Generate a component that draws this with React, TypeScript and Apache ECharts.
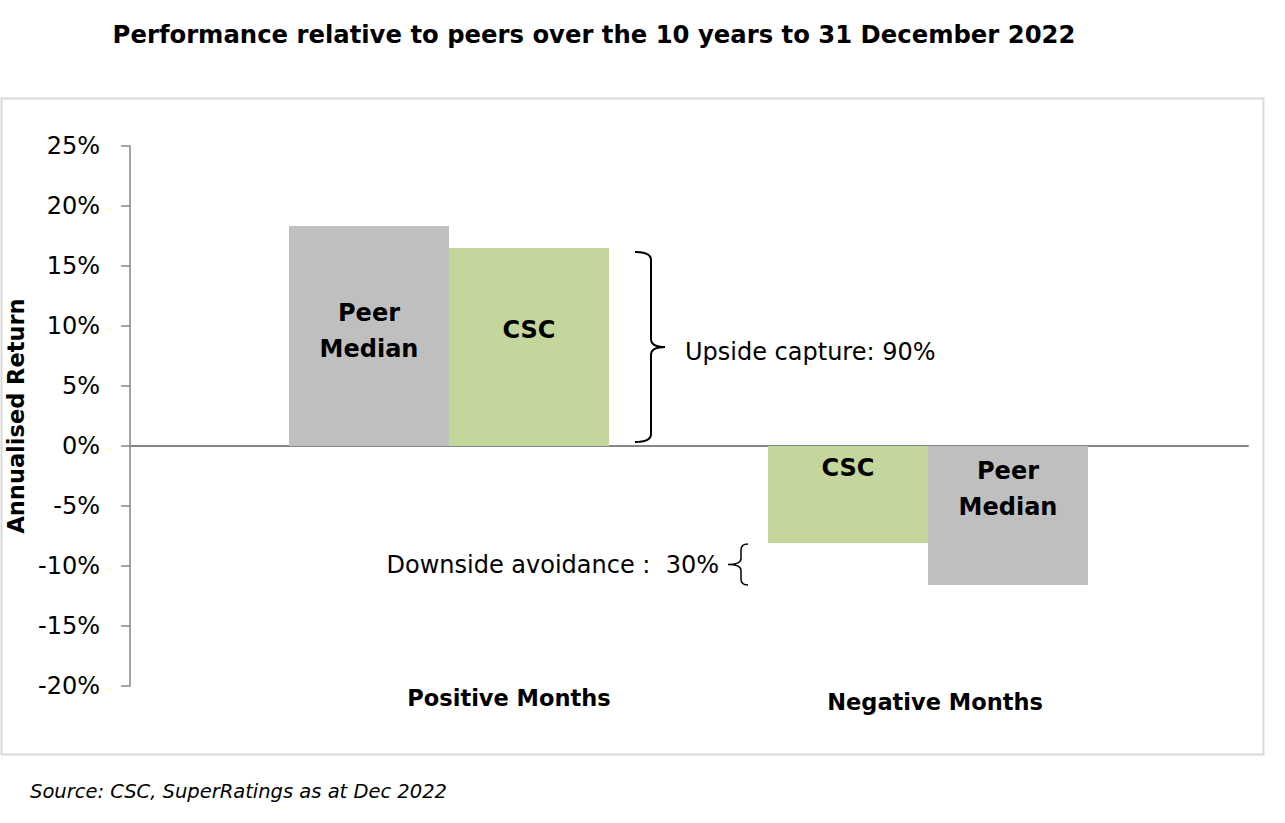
import React, { useEffect, useRef } from "react";
import * as echarts from "echarts";

const title = "Performance relative to peers over the 10 years to 31 December 2022";
const source = "Source: CSC, SuperRatings as at Dec 2022";
const categories = ["Positive Months", "Negative Months"];
const leftBarNames = ["Peer Median", "CSC"];
const leftBarValues = [18.33, -8.08];
const rightBarNames = ["CSC", "Peer Median"];
const rightBarValues = [16.5, -11.58];
const yMin = -20;
const yMax = 25;
const yStep = 5;
const upsideText = "Upside capture: 90%";
const downsideText = "Downside avoidance :  30%";
// brackets: [category index, upper value, lower value]
const brackets = [
  [0, 16.5, 0],
  [1, -8.08, -11.58],
];

const GRAY = "#BFBFBF";
const GREEN = "#C3D69B";
const FONT = "DejaVu Sans";

function colorFor(name: string) {
  return name === "CSC" ? GREEN : GRAY;
}

function labelText(name: string) {
  return name === "Peer Median" ? "Peer\nMedian" : name;
}

export default function App() {
  const ref = useRef<HTMLDivElement>(null);
  useEffect(() => {
    document.body.style.margin = "0";
    const chart = echarts.init(ref.current!, null, { renderer: "svg" });
    const labelDist = (v: number, name: string) => {
      if (v >= 0) return name === "CSC" ? 64 : 69;
      return name === "CSC" ? 4 : 7;
    };
    const mkData = (names: string[], vals: number[]) =>
      vals.map((v, i) => ({
        value: v,
        itemStyle: { color: colorFor(names[i]) },
        label: {
          show: true,
          position: "insideTop",
          distance: labelDist(v, names[i]),
          formatter: labelText(names[i]),
        },
      }));

    const option: any = {
      animation: false,
      textStyle: { fontFamily: FONT },
      title: {
        text: title,
        left: 589,
        top: 17,
        textAlign: "center",
        textStyle: { fontFamily: FONT, fontSize: 24.3, fontWeight: "bold", color: "#000" },
      },
      graphic: [
        {
          type: "rect",
          shape: { x: 1.5, y: 98.5, width: 1262, height: 656 },
          style: { fill: "none", stroke: "#D9D9D9", lineWidth: 2 },
          silent: true,
          z: -1,
        },
        {
          type: "text",
          left: 30,
          top: 781,
          style: {
            text: source,
            fontFamily: FONT,
            fontSize: 19.5,
            fontStyle: "italic",
            fill: "#000",
          },
        },
      ],
      grid: [
        { left: 130, right: 37, top: 146, bottom: 137, outerBoundsMode: "none", containLabel: false },
        { left: 209.5, right: 117.5, top: 146, bottom: 137, outerBoundsMode: "none", containLabel: false },
      ],
      xAxis: [
        {
          gridIndex: 0,
          type: "category",
          data: [""],
          axisLine: { show: true, onZero: true, lineStyle: { color: "#868686", width: 2 } },
          axisTick: { show: false },
          axisLabel: { show: false },
        },
        {
          gridIndex: 1,
          type: "category",
          data: categories,
          axisLine: { show: false },
          axisTick: { show: false },
          axisLabel: {
            margin: 0,
            formatter: (v: string) => (v === categories[0] ? `{a|${v}}` : `{b|${v}}`),
            rich: {
              a: {
                fontFamily: FONT,
                fontSize: 22.5,
                fontWeight: "bold",
                color: "#000",
                padding: [0, 0, 0, 120],
              },
              b: {
                fontFamily: FONT,
                fontSize: 22.5,
                fontWeight: "bold",
                color: "#000",
                padding: [4, 0, 0, 14],
              },
            },
          },
        },
      ],
      yAxis: [
        {
          gridIndex: 0,
          type: "value",
          min: yMin,
          max: yMax,
          interval: yStep,
          name: "Annualised Return",
          nameLocation: "middle",
          nameRotate: 90,
          nameGap: 84,
          nameTextStyle: { fontFamily: FONT, fontSize: 22.5, fontWeight: "bold", color: "#000" },
          axisLine: { show: true, lineStyle: { color: "#868686", width: 1.5 } },
          axisTick: { show: true, length: 9, lineStyle: { color: "#868686", width: 1.5 } },
          splitLine: { show: false },
          axisLabel: {
            margin: 30,
            formatter: (v: number) => `${v}%`,
            fontFamily: FONT,
            fontSize: 24,
            color: "#000",
          },
        },
        {
          gridIndex: 1,
          type: "value",
          min: yMin,
          max: yMax,
          interval: yStep,
          show: false,
        },
      ],
      series: [
        {
          type: "bar",
          xAxisIndex: 1,
          yAxisIndex: 1,
          barWidth: 160,
          barGap: "0%",
          data: mkData(leftBarNames, leftBarValues),
          label: { fontFamily: FONT, fontSize: 24, fontWeight: "bold", color: "#000", lineHeight: 36 },
        },
        {
          type: "bar",
          xAxisIndex: 1,
          yAxisIndex: 1,
          barWidth: 160,
          barGap: "0%",
          data: mkData(rightBarNames, rightBarValues),
          label: { fontFamily: FONT, fontSize: 24, fontWeight: "bold", color: "#000", lineHeight: 36 },
        },
        {
          type: "custom",
          xAxisIndex: 1,
          yAxisIndex: 1,
          data: brackets,
          silent: true,
          renderItem: (params: any, api: any) => {
            const ci = api.value(0);
            const top = api.coord([ci, api.value(1)]);
            const bot = api.coord([ci, api.value(2)]);
            const cx = top[0];
            if (params.dataIndex === 0) {
              const y1 = top[1] + 4;
              const y2 = bot[1] - 4;
              const ym = (y1 + y2) / 2;
              const x0 = cx + 186;
              const xv = cx + 202;
              const xp = cx + 216;
              const r = 8;
              const d = `M${x0} ${y1} Q${xv} ${y1} ${xv} ${y1 + r} L${xv} ${ym - r} Q${xv} ${ym} ${xp} ${ym} Q${xv} ${ym} ${xv} ${ym + r} L${xv} ${y2 - r} Q${xv} ${y2} ${x0} ${y2}`;
              return {
                type: "group",
                children: [
                  {
                    type: "path",
                    shape: { pathData: d },
                    style: { fill: "none", stroke: "#000", lineWidth: 2 },
                  },
                  {
                    type: "text",
                    x: xp + 20,
                    y: ym + 5,
                    style: {
                      text: upsideText,
                      fontFamily: FONT,
                      fontSize: 24,
                      fill: "#000",
                      align: "left",
                      verticalAlign: "middle",
                    },
                  },
                ],
              };
            }
            const y1 = top[1] + 1;
            const y2 = bot[1];
            const ym = (y1 + y2) / 2;
            const x0 = cx - 180;
            const xv = cx - 187;
            const xp = cx - 200;
            const r = 6;
            const d = `M${x0} ${y1} Q${xv} ${y1} ${xv} ${y1 + r} L${xv} ${ym - r} Q${xv} ${ym} ${xp} ${ym} Q${xv} ${ym} ${xv} ${ym + r} L${xv} ${y2 - r} Q${xv} ${y2} ${x0} ${y2}`;
            return {
              type: "group",
              children: [
                {
                  type: "path",
                  shape: { pathData: d },
                  style: { fill: "none", stroke: "#000", lineWidth: 1.5 },
                },
                {
                  type: "text",
                  x: xp - 9,
                  y: ym + 1,
                  style: {
                    text: downsideText,
                    fontFamily: FONT,
                    fontSize: 24,
                    fill: "#000",
                    align: "right",
                    verticalAlign: "middle",
                  },
                },
              ],
            };
          },
        },
      ],
    };
    chart.setOption(option);
    return () => chart.dispose();
  }, []);
  return <div ref={ref} style={{ width: 1285, height: 823 }} />;
}
